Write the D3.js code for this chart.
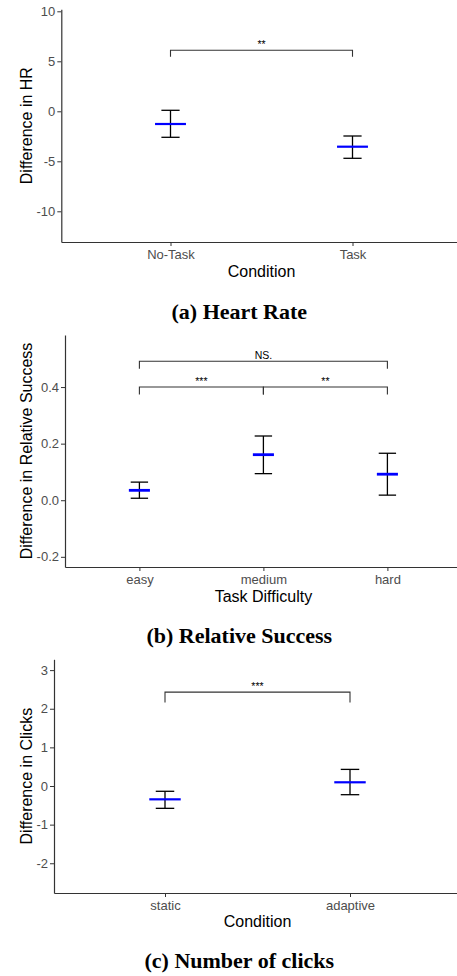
<!DOCTYPE html>
<html><head><meta charset="utf-8">
<script src="https://cdn.jsdelivr.net/npm/d3@7"></script>
<style>
html,body{margin:0;padding:0;background:#fff;}
svg{display:block;}
</style></head>
<body>
<script>
// ---- Panel (a) Heart Rate ----
const hrCategories = ["No-Task", "Task"];
const hrMean = [-1.27, -3.54];
const hrLower = [-2.6, -4.7];
const hrUpper = [0.1, -2.47];
const hrTicks = [-10, -5, 0, 5, 10];
const hrBrackets = [{from: 0, to: 1, y: 6.1, label: "**"}];

// ---- Panel (b) Relative Success ----
const rsCategories = ["easy", "medium", "hard"];
const rsMean = [0.035, 0.161, 0.092];
const rsLower = [0.007, 0.094, 0.018];
const rsUpper = [0.064, 0.227, 0.166];
const rsTicks = [-0.2, 0.0, 0.2, 0.4];
const rsBrackets = [
  {from: 0, to: 1, y: 0.40, label: "***"},
  {from: 1, to: 2, y: 0.40, label: "**"},
  {from: 0, to: 2, y: 0.491, label: "NS."}
];

// ---- Panel (c) Number of clicks ----
const clCategories = ["static", "adaptive"];
const clMean = [-0.345, 0.096];
const clLower = [-0.578, -0.225];
const clUpper = [-0.137, 0.43];
const clTicks = [-2, -1, 0, 1, 2, 3];
const clBrackets = [{from: 0, to: 1, y: 2.43, label: "***"}];

const svg = d3.select("body").append("svg").attr("width", 457).attr("height", 976);

function panel(o) {
  const n = o.categories.length;
  const x = d3.scaleLinear().domain([0.4, n + 0.6]).range([o.left, o.right]);
  const y = d3.scaleLinear().domain(o.yDomain).range([o.bottom, o.top]);
  const g = svg.append("g");

  // y axis
  const ya = g.append("g").attr("transform", `translate(${o.left},0)`)
    .call(d3.axisLeft(y).tickValues(o.ticks).tickSize(4).tickSizeOuter(0).tickPadding(2)
      .tickFormat(o.fmt));
  // x axis
  const xa = g.append("g").attr("transform", `translate(0,${o.bottom})`)
    .call(d3.axisBottom(x).tickValues(d3.range(1, n + 1)).tickSize(4).tickSizeOuter(0).tickPadding(3.5)
      .tickFormat(i => o.categories[i - 1]));
  [ya, xa].forEach(a => {
    a.select(".domain").attr("stroke", "#333").attr("stroke-width", 1.2);
    a.selectAll(".tick line").attr("stroke", "#333").attr("stroke-width", 1);
    a.selectAll(".tick text").attr("fill", "#4d4d4d")
      .style("font-family", "'Liberation Sans', Arial, sans-serif").style("font-size", "13px");
  });

  // error bars
  const idx = d3.range(n);
  const eb = g.append("g").attr("stroke", "#000").attr("stroke-width", 1.3).attr("fill", "none");
  idx.forEach(i => {
    const cx = x(i + 1);
    eb.append("line").attr("x1", cx).attr("x2", cx).attr("y1", y(o.lower[i])).attr("y2", y(o.upper[i]));
    eb.append("line").attr("x1", x(i + 1 - o.cap / 2)).attr("x2", x(i + 1 + o.cap / 2))
      .attr("y1", y(o.upper[i])).attr("y2", y(o.upper[i]));
    eb.append("line").attr("x1", x(i + 1 - o.cap / 2)).attr("x2", x(i + 1 + o.cap / 2))
      .attr("y1", y(o.lower[i])).attr("y2", y(o.lower[i]));
  });
  // means
  g.append("g").selectAll("line").data(idx).join("line")
    .attr("x1", i => x(i + 1 - 0.085)).attr("x2", i => x(i + 1 + 0.085))
    .attr("y1", i => y(o.mean[i])).attr("y2", i => y(o.mean[i]))
    .attr("stroke", "#0000ff").attr("stroke-width", o.meanW);

  // significance brackets
  o.brackets.forEach(b => {
    const x1 = x(b.from + 1), x2 = x(b.to + 1), yy = y(b.y);
    g.append("path")
      .attr("d", `M${x1},${yy + o.tip}V${yy}H${x2}V${yy + o.tip}`)
      .attr("fill", "none").attr("stroke", "#333").attr("stroke-width", 1.1);
    g.append("text").attr("x", (x1 + x2) / 2).attr("y", yy - 2)
      .attr("text-anchor", "middle").attr("fill", "#000")
      .style("font-family", "'Liberation Sans', Arial, sans-serif").style("font-size", "10.5px")
      .text(b.label);
  });

  // axis titles
  g.append("text").attr("x", (o.left + o.right) / 2).attr("y", o.xTitleY)
    .attr("text-anchor", "middle").attr("fill", "#000")
    .style("font-family", "'Liberation Sans', Arial, sans-serif").style("font-size", "16px")
    .text(o.xTitle);
  g.append("text").attr("transform", `translate(32.3,${(o.top + o.bottom) / 2}) rotate(-90)`)
    .attr("text-anchor", "middle").attr("fill", "#000")
    .style("font-family", "'Liberation Sans', Arial, sans-serif").style("font-size", "16px")
    .text(o.yTitle);

  // caption
  g.append("text").attr("x", 239.3).attr("y", o.capY).attr("text-anchor", "middle")
    .attr("fill", "#000").style("font-family", "'Liberation Serif', 'Times New Roman', serif")
    .style("font-size", "22px").style("font-weight", "bold").text(o.caption);
}

panel({
  categories: hrCategories, mean: hrMean, lower: hrLower, upper: hrUpper, ticks: hrTicks,
  brackets: hrBrackets, fmt: d => String(d),
  left: 61.3, right: 461.7, top: 9.3, bottom: 242, yDomain: [-13.07, 10.2],
  cap: 0.1, meanW: 2.2, tip: 6.4,
  xTitle: "Condition", xTitleY: 277.3, yTitle: "Difference in HR",
  caption: "(a) Heart Rate", capY: 319.3
});

panel({
  categories: rsCategories, mean: rsMean, lower: rsLower, upper: rsUpper, ticks: rsTicks,
  brackets: rsBrackets, fmt: d => d.toFixed(1),
  left: 65, right: 461.8, top: 335, bottom: 567, yDomain: [-0.236, 0.584],
  cap: 0.14, meanW: 2.8, tip: 7.5,
  xTitle: "Task Difficulty", xTitleY: 601.7, yTitle: "Difference in Relative Success",
  caption: "(b) Relative Success", capY: 643.3
});

panel({
  categories: clCategories, mean: clMean, lower: clLower, upper: clUpper, ticks: clTicks,
  brackets: clBrackets, fmt: d => String(d),
  left: 54, right: 461, top: 659.3, bottom: 893, yDomain: [-2.77, 3.28],
  cap: 0.1, meanW: 2.2, tip: 10.3,
  xTitle: "Condition", xTitleY: 927.3, yTitle: "Difference in Clicks",
  caption: "(c) Number of clicks", capY: 968.3
});
</script>
</body></html>
